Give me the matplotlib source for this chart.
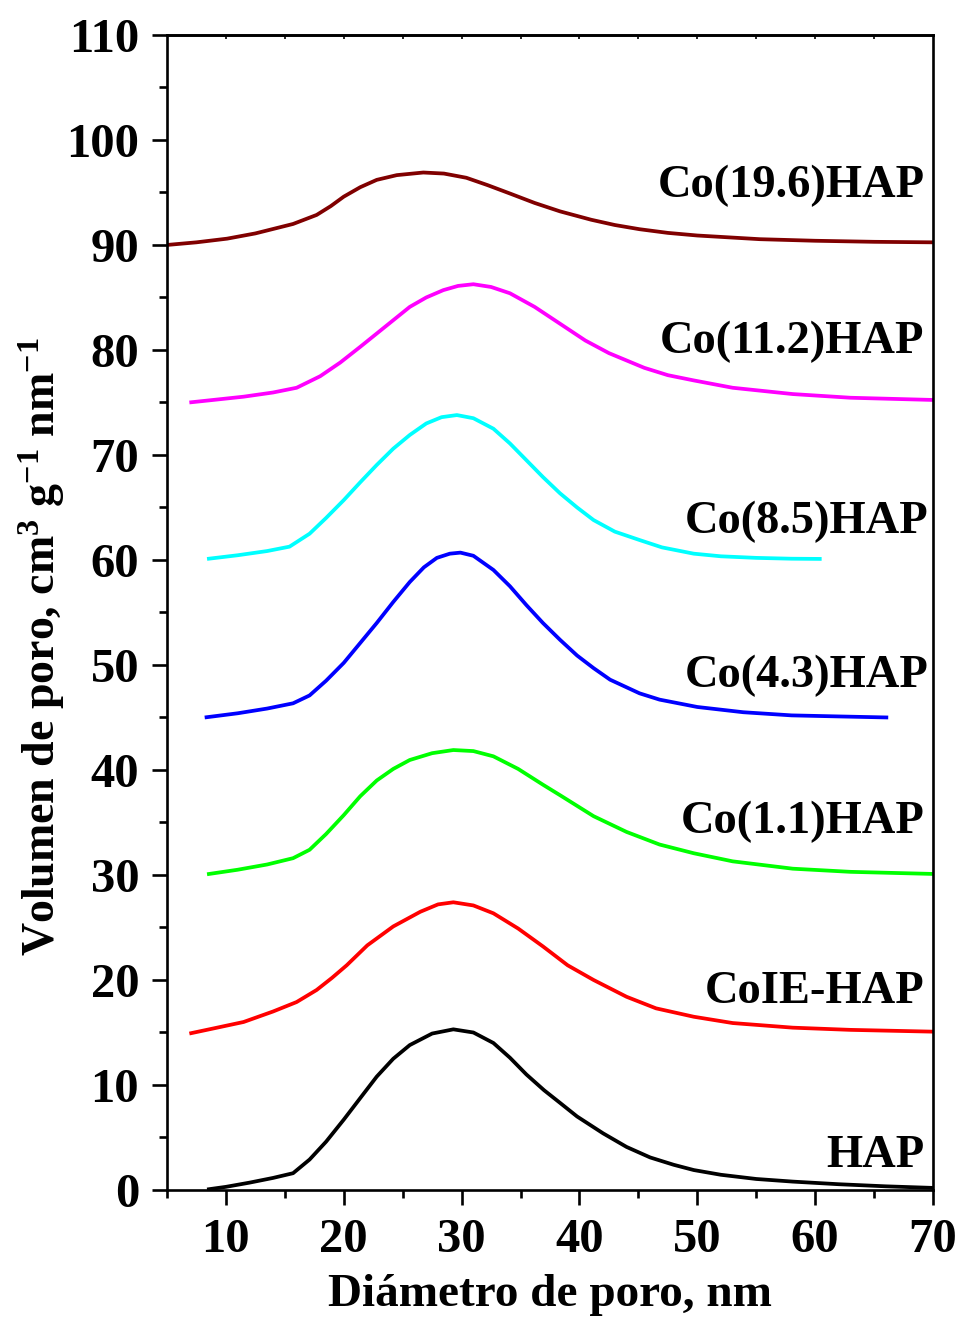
import matplotlib
matplotlib.use("Agg")
import matplotlib.pyplot as plt
from matplotlib.ticker import MultipleLocator

plt.rcParams['font.family'] = ['Liberation Serif', 'DejaVu Serif']
plt.rcParams['font.weight'] = 'bold'
plt.rcParams['mathtext.fontset'] = 'custom'
plt.rcParams['mathtext.rm'] = 'Liberation Serif:bold'
plt.rcParams['mathtext.bf'] = 'Liberation Serif:bold'
plt.rcParams['mathtext.default'] = 'bf'

# pore size distributions (offset curves), diameter in nm
x_hap = [8.4, 10, 12, 14, 15.7, 17.1, 18.5, 20.0, 21.5, 22.8, 24.2, 25.6, 27.5, 29.3, 31.0,
         32.7, 34.1, 35.5, 37.0, 38.35, 39.8, 42, 44, 46, 48, 49.7, 52, 55, 58.1, 62, 66, 70]
y_hap = [0.05, 0.3, 0.7, 1.15, 1.6, 2.9, 4.6, 6.7, 8.9, 10.8, 12.5, 13.8, 14.9, 15.3, 15.0,
         14.0, 12.6, 11.0, 9.5, 8.3, 7.0, 5.4, 4.1, 3.1, 2.4, 1.9, 1.45, 1.05, 0.8, 0.55, 0.35, 0.2]

x_coie = [6.9, 9, 11.5, 14, 16.0, 17.7, 19, 20.25, 22, 24.2, 26.5, 28, 29.3, 31, 32.7, 34.8,
          36.9, 39, 41.2, 44.0, 46.5, 49.7, 53, 58.1, 63, 70]
y_coie = [14.9, 15.4, 16.0, 17.0, 17.9, 19.05, 20.2, 21.4, 23.3, 25.1, 26.5, 27.2, 27.4, 27.1,
          26.35, 24.9, 23.2, 21.4, 20.0, 18.4, 17.3, 16.5, 15.9, 15.46, 15.25, 15.08]

x_co11 = [8.4, 11, 13.5, 15.7, 17.1, 18.5, 20.0, 21.4, 22.8, 24.2, 25.6, 27.5, 29.3, 31, 32.7,
          34.8, 36.9, 38.35, 41.2, 44.0, 46.8, 49.7, 53, 58.1, 63, 70]
y_co11 = [30.07, 30.5, 31.0, 31.6, 32.4, 33.9, 35.7, 37.5, 39.0, 40.1, 40.95, 41.6, 41.9, 41.8,
          41.3, 40.1, 38.6, 37.6, 35.6, 34.1, 32.9, 32.07, 31.3, 30.6, 30.3, 30.1]

x_co43 = [8.2, 11, 13.5, 15.7, 17.1, 18.5, 20.0, 21.4, 22.8, 24.2, 25.6, 26.8, 27.9, 29.0, 29.9,
          31.0, 32.7, 34.1, 35.5, 36.9, 38.35, 39.8, 41.2, 42.6, 45.1, 46.8, 50, 53.9, 58, 62, 66.2]
y_co43 = [45.0, 45.4, 45.85, 46.35, 47.1, 48.5, 50.2, 52.1, 54.0, 56.0, 57.9, 59.3, 60.2, 60.6,
          60.7, 60.4, 59.05, 57.5, 55.7, 54.0, 52.4, 50.9, 49.7, 48.6, 47.3, 46.7, 46.0, 45.5,
          45.2, 45.1, 45.0]

x_co85 = [8.4, 11, 13.5, 15.4, 17.1, 18.5, 20.0, 21.4, 22.8, 24.2, 25.6, 27, 28.3, 29.6, 31,
          32.7, 34.1, 35.5, 36.9, 38.35, 39.8, 41.2, 43, 45.1, 47, 49.7, 52, 55, 58, 60.55]
y_co85 = [60.1, 60.45, 60.85, 61.27, 62.5, 64.0, 65.7, 67.4, 69.05, 70.6, 71.9, 73.0, 73.6, 73.8,
          73.5, 72.5, 71.1, 69.5, 67.9, 66.35, 65.0, 63.8, 62.7, 61.9, 61.2, 60.6, 60.35, 60.2,
          60.12, 60.1]

x_co112 = [6.9, 9, 11.5, 14, 16.0, 18.0, 19.7, 21.4, 23.5, 25.6, 27, 28.45, 29.7, 31.0, 32.5,
           34.1, 36.2, 38.35, 40.5, 42.5, 44.0, 45.5, 47.5, 49.7, 53, 58.1, 63, 70]
y_co112 = [75.0, 75.25, 75.55, 75.95, 76.4, 77.5, 78.8, 80.3, 82.2, 84.1, 85.0, 85.7, 86.1, 86.26,
           86.0, 85.4, 84.1, 82.5, 80.9, 79.7, 79.0, 78.3, 77.6, 77.1, 76.4, 75.8, 75.45, 75.24]

x_co196 = [5.0, 7.5, 10.1, 12.5, 15.7, 17.7, 18.9, 20.0, 21.4, 22.8, 24.5, 26.75, 28.5, 30.4,
           32.2, 34.1, 36.2, 38.35, 41, 43, 45.1, 47.5, 50, 55.3, 60, 65, 70]
y_co196 = [90.0, 90.25, 90.6, 91.1, 92.0, 92.86, 93.7, 94.6, 95.5, 96.2, 96.65, 96.9, 96.8, 96.4,
           95.7, 94.9, 94.0, 93.2, 92.4, 91.9, 91.5, 91.15, 90.9, 90.55, 90.4, 90.3, 90.25]

names = ['HAP', 'CoIE-HAP', 'Co(1.1)HAP', 'Co(4.3)HAP', 'Co(8.5)HAP', 'Co(11.2)HAP', 'Co(19.6)HAP']
label_y = [3.25, 18.85, 35.05, 48.95, 63.65, 80.75, 95.65]
label_x = [69.3, 69.3, 69.3, 69.6, 69.6, 69.3, 69.3]

series = [(x_hap, y_hap), (x_coie, y_coie), (x_co11, y_co11), (x_co43, y_co43),
          (x_co85, y_co85), (x_co112, y_co112), (x_co196, y_co196)]
colors = ['black', 'red', '#00ff00', 'blue', 'cyan', 'magenta', '#800000']

fig = plt.figure(figsize=(9.58, 13.19), dpi=100)
ax = fig.add_axes([0.1743, 0.0978, 0.7996, 0.8757])

for (xs, ys), c in zip(series, colors):
    ax.plot(xs, ys, color=c, lw=2.7, solid_capstyle='butt', solid_joinstyle='round')

for nm, lx, ly in zip(names, label_x, label_y):
    ax.text(lx, ly, nm, ha='right', va='center', fontsize=33.5, fontweight='bold')

ax.set_xlim(5, 70)
ax.set_ylim(0, 110)
ax.xaxis.set_major_locator(MultipleLocator(10))
ax.xaxis.set_minor_locator(MultipleLocator(5))
ax.yaxis.set_major_locator(MultipleLocator(10))
ax.yaxis.set_minor_locator(MultipleLocator(5))
ax.set_xticks([10, 20, 30, 40, 50, 60, 70])

for sp in ax.spines.values():
    sp.set_linewidth(1.9)

ax.tick_params(which='major', direction='out', length=11, width=1.9, labelsize=35, pad=9)
ax.tick_params(which='minor', direction='out', length=6, width=1.9)

# little inward marks along the top edge
top = ax.secondary_xaxis('top')
top.set_xticks([10, 15, 20, 25, 30, 35, 40, 45, 50, 55, 60, 65])
top.tick_params(direction='in', length=3, width=1.2, labeltop=False)
top.spines['top'].set_linewidth(1.9)

ax.set_xlabel('Diámetro de poro, nm', fontsize=34, fontweight='bold')
ax.set_ylabel('Volumen de poro, cm$^{3}$ g$^{-1}$ nm$^{-1}$', fontsize=33, fontweight='bold')
ax.xaxis.set_label_coords(0.5, -0.073)
ax.yaxis.set_label_coords(-0.13, 0.47)

fig.savefig('out.png', dpi=100)
